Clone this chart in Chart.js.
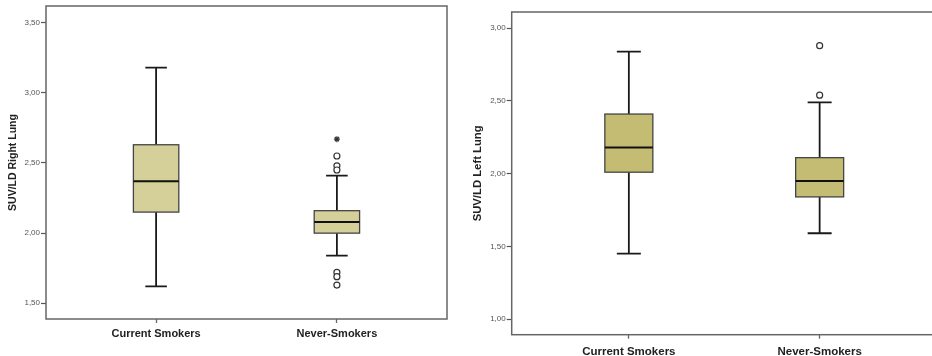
<!DOCTYPE html>
<html>
<head>
<meta charset="utf-8">
<script src="https://cdn.jsdelivr.net/npm/chart.js@4"></script>
<style>
  html, body { margin: 0; padding: 0; background: #fff; }
  body { width: 932px; height: 356px; overflow: hidden; position: relative; }
  .panel { position: absolute; top: 0; height: 356px; }
  #panelRight { left: 0; width: 462px; }
  #panelLeft { left: 470px; width: 472px; }
</style>
</head>
<body>
<div class="panel" id="panelRight"><canvas id="rightLung"></canvas></div>
<div class="panel" id="panelLeft"><canvas id="leftLung"></canvas></div>
<script>
const categories = ['Current Smokers', 'Never-Smokers'];

// SUV/LD Right Lung
const rightWhiskerLow = [1.62, 1.84];
const rightQ1 = [2.15, 2.00];
const rightMedian = [2.37, 2.08];
const rightQ3 = [2.63, 2.16];
const rightWhiskerHigh = [3.18, 2.41];
const rightOutliers = [[], [2.55, 2.48, 2.45, 1.72, 1.69, 1.63]];
const rightExtremes = [[], [2.67]];
const rightTicks = [1.5, 2.0, 2.5, 3.0, 3.5];

// SUV/LD Left Lung
const leftWhiskerLow = [1.45, 1.59];
const leftQ1 = [2.01, 1.84];
const leftMedian = [2.18, 1.95];
const leftQ3 = [2.41, 2.11];
const leftWhiskerHigh = [2.84, 2.49];
const leftOutliers = [[], [2.88, 2.54]];
const leftExtremes = [[], []];
const leftTicks = [1.0, 1.5, 2.0, 2.5, 3.0];

const FONT = "'Liberation Sans', Arial, sans-serif";

function toPoints(groups) {
  return groups.flatMap((vals, i) => vals.map(v => ({ x: i, y: v })));
}

// draws frame, whiskers, boxes and medians through the chart scales
function boxPlugin(stats, look) {
  return {
    id: 'boxes',
    beforeDatasetsDraw(chart) {
      const { ctx, chartArea: a, scales: { x, y } } = chart;
      ctx.save();
      ctx.strokeStyle = '#666';
      ctx.lineWidth = 1.5;
      ctx.strokeRect(a.left, a.top, a.right - a.left, a.bottom - a.top);

      stats.median.forEach((m, i) => {
        const cx = x.getPixelForValue(i);
        const yLow = y.getPixelForValue(stats.low[i]);
        const yQ1 = y.getPixelForValue(stats.q1[i]);
        const yMed = y.getPixelForValue(m);
        const yQ3 = y.getPixelForValue(stats.q3[i]);
        const yHigh = y.getPixelForValue(stats.high[i]);

        ctx.strokeStyle = '#1a1a1a';
        ctx.lineWidth = 1.8;
        ctx.beginPath();
        ctx.moveTo(cx, yLow); ctx.lineTo(cx, yQ1);
        ctx.moveTo(cx, yQ3); ctx.lineTo(cx, yHigh);
        ctx.moveTo(cx - look.capHalf, yLow); ctx.lineTo(cx + look.capHalf, yLow);
        ctx.moveTo(cx - look.capHalf, yHigh); ctx.lineTo(cx + look.capHalf, yHigh);
        ctx.stroke();

        ctx.fillStyle = look.fill;
        ctx.fillRect(cx - look.boxHalf, yQ3, look.boxHalf * 2, yQ1 - yQ3);
        ctx.strokeStyle = '#444';
        ctx.lineWidth = 1.3;
        ctx.strokeRect(cx - look.boxHalf, yQ3, look.boxHalf * 2, yQ1 - yQ3);

        ctx.strokeStyle = '#111';
        ctx.lineWidth = 2;
        ctx.beginPath();
        ctx.moveTo(cx - look.boxHalf, yMed); ctx.lineTo(cx + look.boxHalf, yMed);
        ctx.stroke();
      });
      ctx.restore();
    }
  };
}

function makeChart(id, opt) {
  const ctx = document.getElementById(id).getContext('2d');
  return new Chart(ctx, {
    type: 'scatter',
    data: {
      datasets: [{
        data: toPoints(opt.outliers),
        pointStyle: 'circle',
        pointRadius: 3,
        pointBorderWidth: 1.2,
        borderColor: '#333',
        backgroundColor: '#fff'
      }, {
        data: toPoints(opt.extremes),
        pointStyle: 'star',
        pointRadius: 3,
        pointBorderWidth: 1.2,
        borderColor: '#333',
        backgroundColor: '#333'
      }]
    },
    options: {
      responsive: true,
      maintainAspectRatio: false,
      animation: false,
      layout: { padding: opt.padding },
      plugins: {
        legend: { display: false },
        tooltip: { enabled: false }
      },
      scales: {
        x: {
          type: 'linear',
          min: opt.xMin,
          max: opt.xMax,
          afterBuildTicks: s => { s.ticks = categories.map((c, i) => ({ value: i })); },
          afterFit: s => { s.height = opt.xHeight; },
          border: { display: false },
          grid: { drawOnChartArea: false, drawTicks: true, tickLength: 4, color: '#666', tickWidth: 1.3 },
          ticks: {
            callback: v => categories[v],
            font: { family: FONT, size: opt.catSize, weight: 'bold' },
            color: '#222',
            padding: opt.catPad,
            maxRotation: 0
          }
        },
        y: {
          min: opt.yMin,
          max: opt.yMax,
          afterBuildTicks: s => { s.ticks = opt.ticks.map(v => ({ value: v })); },
          afterFit: s => { s.width = opt.yWidth; },
          border: { display: false },
          grid: { drawOnChartArea: false, drawTicks: true, tickLength: 5, color: '#555', tickWidth: 1.2 },
          ticks: {
            callback: v => v.toFixed(2).replace('.', ','),
            font: { family: FONT, size: 8 },
            color: '#555',
            padding: 1
          },
          title: {
            display: true,
            text: opt.title,
            font: { family: FONT, size: opt.titleSize, weight: 'bold' },
            color: '#222',
            padding: { top: opt.titlePad, bottom: 0 }
          }
        }
      }
    },
    plugins: [boxPlugin(opt.stats, opt.look)]
  });
}

makeChart('rightLung', {
  title: 'SUV/LD Right Lung',
  outliers: rightOutliers,
  extremes: rightExtremes,
  ticks: rightTicks,
  stats: { low: rightWhiskerLow, q1: rightQ1, median: rightMedian, q3: rightQ3, high: rightWhiskerHigh },
  look: { fill: '#d5d09a', boxHalf: 22.7, capHalf: 10.8 },
  yMin: 1.388, yMax: 3.619,
  xMin: -0.609, xMax: 1.609,
  padding: { top: 6, right: 15, bottom: 0, left: 0 },
  yWidth: 46, xHeight: 37,
  catSize: 11, catPad: 4,
  titleSize: 10.5, titlePad: 7
});

makeChart('leftLung', {
  title: 'SUV/LD Left Lung',
  outliers: leftOutliers,
  extremes: leftExtremes,
  ticks: leftTicks,
  stats: { low: leftWhiskerLow, q1: leftQ1, median: leftMedian, q3: leftQ3, high: leftWhiskerHigh },
  look: { fill: '#c4bc72', boxHalf: 24, capHalf: 12 },
  yMin: 0.892, yMax: 3.112,
  xMin: -0.614, xMax: 1.614,
  padding: { top: 12, right: 4.7, bottom: 0, left: 0 },
  yWidth: 41.7, xHeight: 21.3,
  catSize: 11.5, catPad: 6,
  titleSize: 11.3, titlePad: 1
});
</script>
</body>
</html>
